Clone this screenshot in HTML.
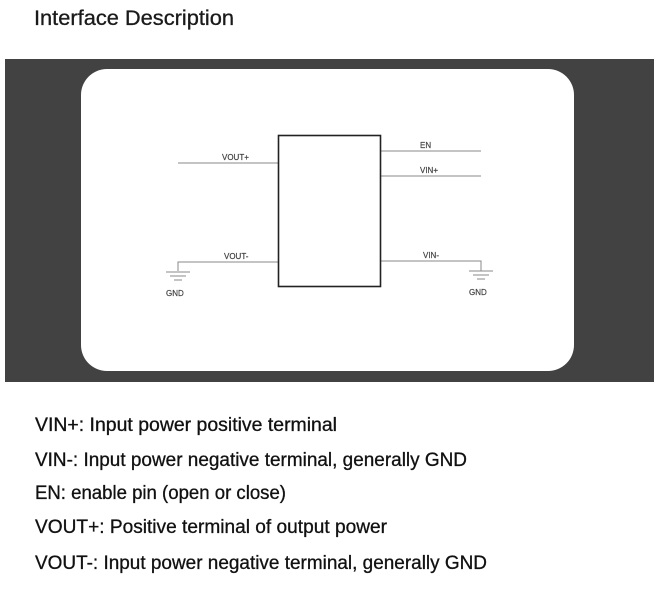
<!DOCTYPE html>
<html><head><meta charset="utf-8"><style>
html,body{margin:0;padding:0;background:#fff;}
body{width:654px;height:590px;overflow:hidden;position:relative;font-family:"Liberation Sans",sans-serif;}
</style></head><body>
<svg width="654" height="590" xmlns="http://www.w3.org/2000/svg" style="position:absolute;left:0;top:0">
<text x="34" y="25" font-family="Liberation Sans, sans-serif" font-size="21" fill="#1a1a1a" stroke="#1a1a1a" stroke-width="0.3" textLength="200" lengthAdjust="spacingAndGlyphs">Interface Description</text>
<rect x="5" y="59" width="649" height="323" fill="#424242"/>
<rect x="81" y="69" width="493" height="302" rx="26" fill="#fff"/>
<g stroke="#888" stroke-width="1" fill="none">
<line x1="178" y1="163" x2="278" y2="163"/>
<polyline points="178,271 178,262 278,262"/>
<line x1="381" y1="151" x2="481" y2="151"/>
<line x1="381" y1="176" x2="481" y2="176"/>
<polyline points="381,261 481,261 481,271"/>
<line x1="166" y1="272" x2="190" y2="272"/>
<line x1="170" y1="276" x2="186" y2="276"/>
<line x1="174" y1="280" x2="182" y2="280"/>
<line x1="469" y1="271" x2="493" y2="271"/>
<line x1="473" y1="275" x2="489" y2="275"/>
<line x1="477" y1="279" x2="485" y2="279"/>
</g>
<rect x="278.5" y="135.5" width="102" height="151" fill="none" stroke="#222" stroke-width="1.6"/>
<g font-family="Liberation Sans, sans-serif" font-size="8" fill="#444" stroke="#444" stroke-width="0.2">
<text x="222" y="160">VOUT+</text>
<text x="224" y="259">VOUT-</text>
<text x="420" y="148">EN</text>
<text x="420" y="173">VIN+</text>
<text x="423" y="258">VIN-</text>
<text x="166" y="296">GND</text>
<text x="469" y="295">GND</text>
</g>
<g font-family="Liberation Sans, sans-serif" font-size="19" fill="#111" stroke="#111" stroke-width="0.3">
<text x="35" y="431" textLength="302" lengthAdjust="spacingAndGlyphs">VIN+: Input power positive terminal</text>
<text x="35" y="466" textLength="432" lengthAdjust="spacingAndGlyphs">VIN-: Input power negative terminal, generally GND</text>
<text x="35" y="499" textLength="251" lengthAdjust="spacingAndGlyphs">EN: enable pin (open or close)</text>
<text x="35" y="533" textLength="352" lengthAdjust="spacingAndGlyphs">VOUT+: Positive terminal of output power</text>
<text x="35" y="569" textLength="452" lengthAdjust="spacingAndGlyphs">VOUT-: Input power negative terminal, generally GND</text>
</g>
</svg>
</body></html>
